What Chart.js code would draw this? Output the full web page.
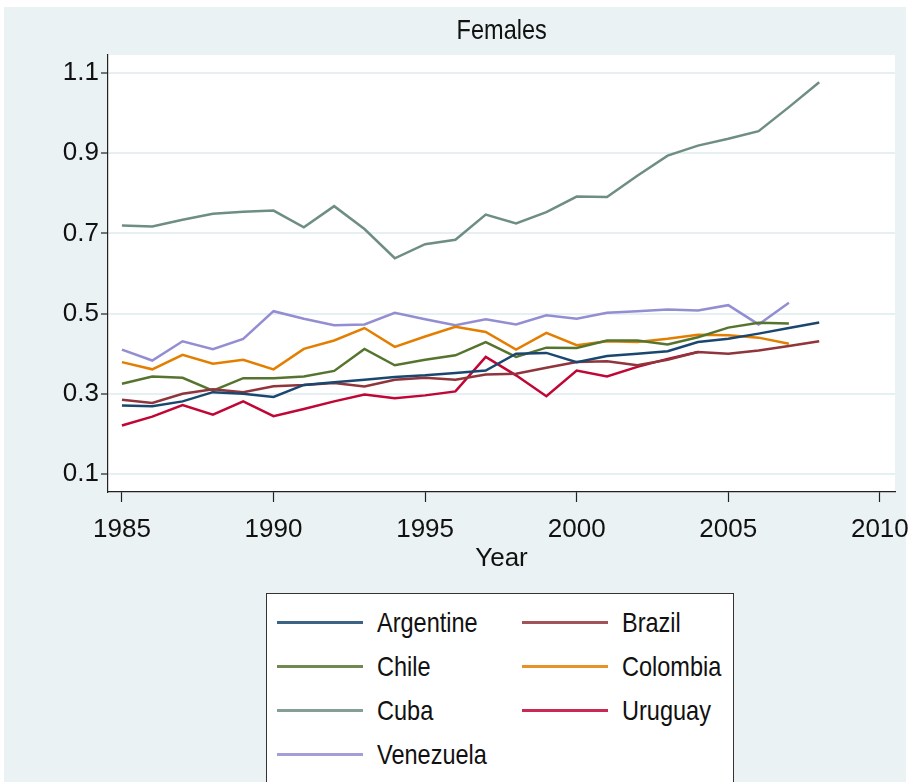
<!DOCTYPE html>
<html>
<head>
<meta charset="utf-8">
<script src="https://cdn.jsdelivr.net/npm/chart.js@4.4.1/dist/chart.umd.min.js"></script>
<style>
  body { margin:0; background:#fff; }
  #wrap { position:relative; width:918px; height:782px; overflow:hidden;
          font-family:"Liberation Sans Narrow","Arial Narrow","Liberation Sans",sans-serif; }
  #bg { position:absolute; left:4px; top:7px; width:902px; height:780px; background:#eaf2f3; }
  #c { position:absolute; left:0; top:0; }
  #title { position:absolute; left:108px; width:787px; top:13px; line-height:34px;
           text-align:center; font-size:28px; color:#111; }
  #title span { display:inline-block; transform:scaleX(0.84); }
  #legend { position:absolute; left:266px; top:593px; width:466px; height:220px;
            background:#fff; border:1.5px solid #333; }
  .item { position:absolute; height:30px; line-height:30px; font-size:28px; color:#111; }
  .item span.ln { position:absolute; left:0; top:13px; width:86px; height:3px; opacity:0.85; }
  .item span.tx { position:absolute; left:100px; top:0; white-space:nowrap;
                  transform:scaleX(0.84); transform-origin:left center; }
</style>
</head>
<body>
<div id="wrap">
  <div id="bg"></div>
  <canvas id="c" width="918" height="782"></canvas>
  <div id="title"><span>Females</span></div>
  <div id="legend"></div>
</div>
<script>
const years = [1985,1986,1987,1988,1989,1990,1991,1992,1993,1994,1995,1996,
               1997,1998,1999,2000,2001,2002,2003,2004,2005,2006,2007,2008];

const argentine = [0.271,0.269,0.281,0.304,0.300,0.292,0.322,0.329,0.335,0.342,0.346,0.352,
                   0.358,0.400,0.402,0.379,0.394,0.400,0.406,0.429,0.437,0.450,0.464,0.478];
const brazil    = [0.285,0.277,0.300,0.311,0.304,0.319,0.322,0.327,0.318,0.335,0.340,0.335,
                   0.348,0.350,0.365,0.379,0.381,0.371,0.385,0.404,0.400,0.408,0.419,0.431];
const chile     = [0.325,0.343,0.340,0.308,0.339,0.339,0.343,0.357,0.412,0.371,0.385,0.396,
                   0.429,0.392,0.415,0.414,0.433,0.433,0.423,0.441,0.465,0.477,0.475];
const colombia  = [0.379,0.361,0.397,0.375,0.385,0.361,0.412,0.433,0.464,0.417,0.443,0.467,
                   0.454,0.410,0.452,0.421,0.431,0.429,0.437,0.447,0.446,0.440,0.425];
const cuba      = [0.720,0.717,0.734,0.749,0.754,0.757,0.715,0.768,0.711,0.638,0.673,0.684,
                   0.747,0.725,0.753,0.792,0.791,0.844,0.894,0.919,0.936,0.955,1.015,1.077];
const uruguay   = [0.221,0.243,0.272,0.248,0.281,0.244,0.262,0.281,0.298,0.289,0.296,0.306,
                   0.392,0.346,0.294,0.358,0.343,0.367,0.387,0.404];
const venezuela = [0.410,0.383,0.431,0.411,0.437,0.506,0.487,0.471,0.473,0.502,0.486,0.471,
                   0.486,0.473,0.496,0.487,0.502,0.506,0.510,0.508,0.521,0.473,0.527];

const xTicks = [1985,1990,1995,2000,2005,2010];
const yTicks = [0.1,0.3,0.5,0.7,0.9,1.1];
const yTickLabels = ["0.1","0.3","0.5","0.7","0.9","1.1"];

const series = [
  { name:"Argentine", values:argentine, color:"#1a476f" },
  { name:"Brazil",    values:brazil,    color:"#90353b" },
  { name:"Chile",     values:chile,     color:"#55752f" },
  { name:"Colombia",  values:colombia,  color:"#e37e00" },
  { name:"Cuba",      values:cuba,      color:"#6e8e84" },
  { name:"Uruguay",   values:uruguay,   color:"#c10534" },
  { name:"Venezuela", values:venezuela, color:"#938dd2" }
];

const FONT = "'Liberation Sans Narrow','Arial Narrow','Liberation Sans',sans-serif";

// white plot region
const plotBg = {
  id:"plotBg",
  beforeDraw(chart) {
    const a = chart.chartArea, ctx = chart.ctx;
    ctx.save();
    ctx.fillStyle = "#fff";
    ctx.fillRect(a.left, a.top, a.right - a.left, a.bottom - a.top);
    ctx.restore();
  }
};

new Chart(document.getElementById("c"), {
  type:"line",
  data:{
    datasets: series.map(s => ({
      label:s.name,
      data:s.values.map((v,i) => ({x:years[i], y:v})),
      borderColor:s.color,
      borderWidth:2.5,
      pointRadius:0,
      tension:0,
      fill:false
    }))
  },
  options:{
    responsive:false,
    animation:false,
    layout:{ autoPadding:false, padding:{ top:55, right:23, bottom:200, left:0 } },
    plugins:{ legend:{display:false}, tooltip:{enabled:false}, title:{display:false} },
    scales:{
      x:{
        type:"linear",
        min:1984.54, max:2010.5,
        afterBuildTicks: sc => { sc.ticks = xTicks.map(v => ({value:v})); },
        afterFit: sc => { sc.height = 90; sc.paddingLeft = 0; sc.paddingRight = 0; },
        grid:{ drawOnChartArea:false, drawTicks:true, tickLength:10, tickColor:"#222", tickWidth:1.2 },
        border:{ display:true, color:"#222", width:1.2 },
        ticks:{ color:"#111", padding:12, maxRotation:0, autoSkip:false,
                font:{ family:FONT, size:26 }, callback:v => String(v) },
        title:{ display:true, text:"Year", color:"#111", padding:{top:0,bottom:8},
                font:{ family:FONT, size:26 } }
      },
      y:{
        type:"linear",
        min:0.055, max:1.145,
        afterBuildTicks: sc => { sc.ticks = yTicks.map(v => ({value:v})); },
        afterFit: sc => { sc.width = 108; sc.paddingTop = 0; sc.paddingBottom = 0; },
        grid:{ color:"#e6eff1", lineWidth:2, drawTicks:true, tickLength:7, tickColor:"#222", tickWidth:1.2 },
        border:{ display:true, color:"#222", width:1.2 },
        ticks:{ color:"#111", padding:2, autoSkip:false,
                font:{ family:FONT, size:26 },
                callback:v => yTickLabels[yTicks.findIndex(t => Math.abs(t - v) < 1e-6)] }
      }
    }
  },
  plugins:[plotBg]
});

// legend: two columns, row-wise order
const leg = document.getElementById("legend");
series.forEach((s,i) => {
  const col = i % 2, row = Math.floor(i / 2);
  const d = document.createElement("div");
  d.className = "item";
  d.style.left = (10 + col * 245) + "px";
  d.style.top = (14 + row * 44) + "px";
  d.innerHTML = '<span class="ln" style="background:' + s.color + '"></span><span class="tx">' + s.name + '</span>';
  leg.appendChild(d);
});
</script>
</body>
</html>
